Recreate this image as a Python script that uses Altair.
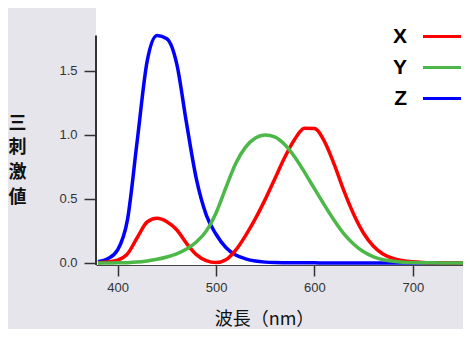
import altair as alt
import pandas as pd

# --- data (tristimulus colour-matching curves) ---
wavelengths = list(range(380, 790, 10))
x_bar = [0.0021, 0.0070, 0.0214, 0.0708, 0.1987, 0.3196, 0.3481, 0.3222, 0.2590, 0.1528,
         0.0655, 0.0182, 0.0029, 0.0251, 0.1003, 0.2137, 0.3458, 0.4963, 0.6616, 0.8264,
         0.9661, 1.0506, 1.0489, 0.9512, 0.7720, 0.5620, 0.3782, 0.2317, 0.1299, 0.0684,
         0.0357, 0.0172, 0.0088, 0.0044, 0.0022, 0.0011, 0.0005, 0.0003, 0.0001, 0.0001,
         0.0000]
y_bar = [0.0001, 0.0002, 0.0006, 0.0020, 0.0066, 0.0158, 0.0284, 0.0460, 0.0711, 0.1083,
         0.1632, 0.2485, 0.3904, 0.5872, 0.7766, 0.9043, 0.9750, 0.9990, 0.9819, 0.9227,
         0.8270, 0.7073, 0.5796, 0.4536, 0.3330, 0.2266, 0.1456, 0.0867, 0.0479, 0.0250,
         0.0129, 0.0062, 0.0032, 0.0016, 0.0008, 0.0004, 0.0002, 0.0001, 0.0001, 0.0000,
         0.0000]
z_bar = [0.0097, 0.0330, 0.1017, 0.3385, 0.9604, 1.5755, 1.7755, 1.7497, 1.5563, 1.0911,
         0.6556, 0.3757, 0.2242, 0.1210, 0.0615, 0.0323, 0.0148, 0.0064, 0.0030, 0.0019,
         0.0015, 0.0010, 0.0006, 0.0003, 0.0001, 0.0000, 0.0000, 0.0000, 0.0000, 0.0000,
         0.0000, 0.0000, 0.0000, 0.0000, 0.0000, 0.0000, 0.0000, 0.0000, 0.0000, 0.0000,
         0.0000]

series_names = ["X", "Y", "Z"]
line_colors = ["#ff0000", "#4cb848", "#0000ff"]
x_ticks = [400, 500, 600, 700]
y_ticks = [0.0, 0.5, 1.0, 1.5]
x_title = "波長（nm）"
y_title = ["三", "刺", "激", "値"]
x_domain = [378, 751]
y_domain = [-0.016, 1.99]

rows = []
for name, vals in (("Z", z_bar), ("X", x_bar), ("Y", y_bar)):
    for w, v in zip(wavelengths, vals):
        rows.append({"wl": w, "val": v, "series": name})
df = pd.DataFrame(rows)

x_scale = alt.Scale(domain=x_domain, nice=False, zero=False)
y_scale = alt.Scale(domain=y_domain, nice=False, zero=False)

lines = alt.Chart(df).mark_line(strokeWidth=3.5, interpolate="monotone").encode(
    x=alt.X("wl:Q", scale=x_scale, title=x_title, axis=alt.Axis(
        values=x_ticks, title=x_title, grid=False,
        labelFont="Liberation Sans", labelFontSize=13, labelColor="#333",
        labelPadding=5, tickSize=11, tickColor="#333", tickWidth=1.5,
        domainColor="#444", domainWidth=1,
        titleFont="Noto Sans CJK JP", titleFontSize=18, titleFontWeight="normal",
        titleColor="#111", titleX=168, titleY=54, titleAlign="center",
        titleBaseline="middle")),
    y=alt.Y("val:Q", scale=y_scale, title=y_title, axis=alt.Axis(
        values=y_ticks, format=".1f", title=y_title, grid=False, domain=False,
        labelFont="Liberation Sans", labelFontSize=13, labelColor="#333",
        labelPadding=7, tickSize=12, tickColor="#333", tickWidth=1.5,
        titleFont="Noto Sans CJK JP", titleFontSize=18, titleFontWeight="bold",
        titleColor="#111", titleAngle=0, titleX=-79, titleY=115,
        titleAlign="center", titleBaseline="middle", titleLineHeight=24.7)),
    color=alt.Color("series:N", scale=alt.Scale(domain=series_names, range=line_colors),
                    legend=alt.Legend(
                        orient="none", legendX=325.5, legendY=8, title=None,
                        padding=0, rowPadding={"expr": "-5.1"},
                        labelFont="Liberation Sans", labelFontSize=21,
                        labelFontWeight="bold", labelColor="#000",
                        labelAlign="right", labelOffset={"expr": "-55.5"},
                        symbolType="M-1,0H1", symbolSize=1444, symbolStrokeWidth=3)),
)

# white plotting panel, spanning the scales' domains
panel_df = pd.DataFrame({"x": [x_domain[0]], "x2": [x_domain[1]],
                         "y": [y_domain[0]], "y2": [y_domain[1]]})
panel = alt.Chart(panel_df).mark_rect(color="white").encode(
    x=alt.X("x:Q", scale=x_scale, title=x_title),
    x2="x2:Q",
    y=alt.Y("y:Q", scale=y_scale, title=y_title),
    y2="y2:Q",
)

# vertical axis line, from the bottom up to the largest value
axis_df = pd.DataFrame({"x": [x_domain[0]], "y": [y_domain[0]], "y2": [max(z_bar)]})
axis_line = alt.Chart(axis_df).mark_rule(color="#333", strokeWidth=2).encode(
    x=alt.X("x:Q", scale=x_scale, title=x_title),
    y=alt.Y("y:Q", scale=y_scale, title=y_title),
    y2="y2:Q",
)

chart = alt.layer(panel, axis_line, lines).properties(
    width=367, height=257,
    autosize=alt.AutoSizeParams(type="none"),
    padding={"left": 88, "top": 0, "right": 0, "bottom": 64},
    background="#e5e5eb",
).configure_view(strokeWidth=0)

chart.save("out.html", embed_options={"renderer": "svg", "actions": False})
